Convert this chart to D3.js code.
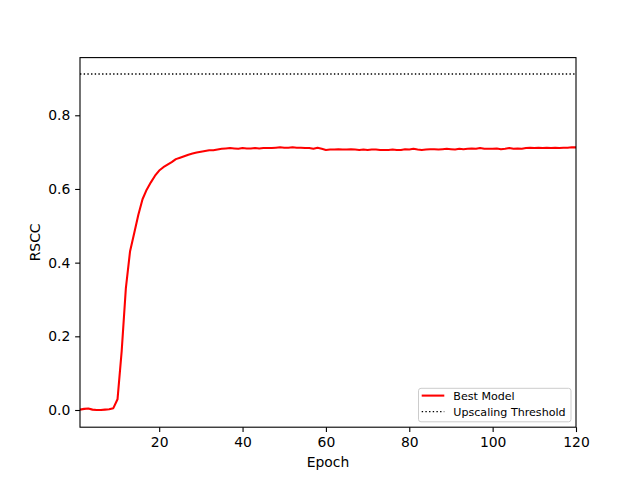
<!DOCTYPE html>
<html><head><meta charset="utf-8">
<script src="https://cdn.jsdelivr.net/npm/d3@7"></script>
<style>body{margin:0;background:#fff}svg{display:block}text{font-family:"DejaVu Sans",sans-serif}</style>
</head><body><svg id="c" width="640" height="480"></svg>
<script>
const epochs = d3.range(1, 121);
const bestModel = [
0.001,0.003,0.004,0.001,0.000,0.000,0.001,0.002,0.005,0.029,
0.160,0.330,0.430,0.480,0.530,0.572,0.598,0.618,0.636,0.650,
0.659,0.666,0.673,0.681,0.685,0.689,0.693,0.696,0.699,0.701,
0.703,0.705,0.705,0.707,0.709,0.710,0.711,0.710,0.709,0.711,
0.710,0.710,0.711,0.710,0.711,0.711,0.711,0.712,0.713,0.712,
0.712,0.713,0.712,0.712,0.711,0.711,0.709,0.712,0.709,0.706,
0.707,0.707,0.708,0.707,0.707,0.708,0.707,0.706,0.707,0.706,
0.707,0.707,0.706,0.706,0.706,0.707,0.706,0.706,0.708,0.707,
0.709,0.707,0.706,0.707,0.708,0.708,0.707,0.708,0.709,0.708,
0.707,0.709,0.708,0.709,0.710,0.709,0.711,0.709,0.709,0.709,
0.710,0.708,0.709,0.711,0.709,0.710,0.709,0.711,0.712,0.711,
0.712,0.711,0.712,0.711,0.712,0.711,0.712,0.712,0.713,0.713];
const threshold = 0.912;
const xTicks = [20, 40, 60, 80, 100, 120];
const yTicks = [0.0, 0.2, 0.4, 0.6, 0.8];
const labels = {x: "Epoch", y: "RSCC", series: "Best Model", threshold: "Upscaling Threshold"};

const L = 80, R = 576, T = 57.6, B = 427.2;
const svg = d3.select("#c");
const x = d3.scaleLinear().domain([1, 120]).range([L, R]);
const y = d3.scaleLinear().domain([-0.0467, 0.9566]).range([B, T]);

const clip = svg.append("defs").append("clipPath").attr("id", "clip")
  .append("rect").attr("x", L).attr("y", T).attr("width", R - L).attr("height", B - T);

const g = svg.append("g").attr("clip-path", "url(#clip)");
g.append("path").datum(epochs.map((e, i) => [e, bestModel[i]]))
  .attr("fill", "none").attr("stroke", "#ff0000").attr("stroke-width", 2.08)
  .attr("stroke-linejoin", "round").attr("stroke-linecap", "square")
  .attr("d", d3.line().x(d => x(d[0])).y(d => y(d[1])));
g.append("line").attr("x1", L).attr("x2", R).attr("y1", y(threshold)).attr("y2", y(threshold))
  .attr("stroke", "#000").attr("stroke-width", 1.39).attr("stroke-dasharray", "1.39,2.29");

const xAxis = svg.append("g").attr("transform", `translate(0,${B})`)
  .call(d3.axisBottom(x).tickValues(xTicks).tickFormat(d3.format("d")).tickSize(4.86).tickPadding(4.9));
const yAxis = svg.append("g").attr("transform", `translate(${L},0)`)
  .call(d3.axisLeft(y).tickValues(yTicks).tickFormat(d3.format(".1f")).tickSize(4.86).tickPadding(4.9));
[xAxis, yAxis].forEach(a => {
  a.select(".domain").remove();
  a.selectAll(".tick line").attr("stroke", "#000").attr("stroke-width", 1.1);
  a.selectAll(".tick text").attr("font-size", "13.9px").attr("fill", "#000").attr("font-family", "DejaVu Sans");
});

svg.append("rect").attr("x", L).attr("y", T).attr("width", R - L).attr("height", B - T)
  .attr("fill", "none").attr("stroke", "#000").attr("stroke-width", 1.1);

svg.append("text").attr("x", (L + R) / 2).attr("y", 467).attr("text-anchor", "middle")
  .attr("font-size", "13.9px").text(labels.x);
svg.append("text").attr("transform", `translate(40,${(T + B) / 2}) rotate(-90)`).attr("text-anchor", "middle")
  .attr("font-size", "13.9px").text(labels.y);

const lg = svg.append("g");
lg.append("rect").attr("x", 418.5).attr("y", 388.3).attr("width", 152.5).attr("height", 33.5).attr("rx", 2.5)
  .attr("fill", "#fff").attr("fill-opacity", 0.8).attr("stroke", "#cccccc").attr("stroke-width", 1);
lg.append("line").attr("x1", 421.7).attr("x2", 444.3).attr("y1", 395.6).attr("y2", 395.6)
  .attr("stroke", "#ff0000").attr("stroke-width", 2.08);
lg.append("line").attr("x1", 421.7).attr("x2", 444.3).attr("y1", 411.6).attr("y2", 411.6)
  .attr("stroke", "#000").attr("stroke-width", 1.39).attr("stroke-dasharray", "1.39,2.29");
lg.append("text").attr("x", 453.3).attr("y", 399.5).attr("font-size", "11.1px").text(labels.series);
lg.append("text").attr("x", 453.3).attr("y", 415.5).attr("font-size", "11.1px").text(labels.threshold);
</script></body></html>
